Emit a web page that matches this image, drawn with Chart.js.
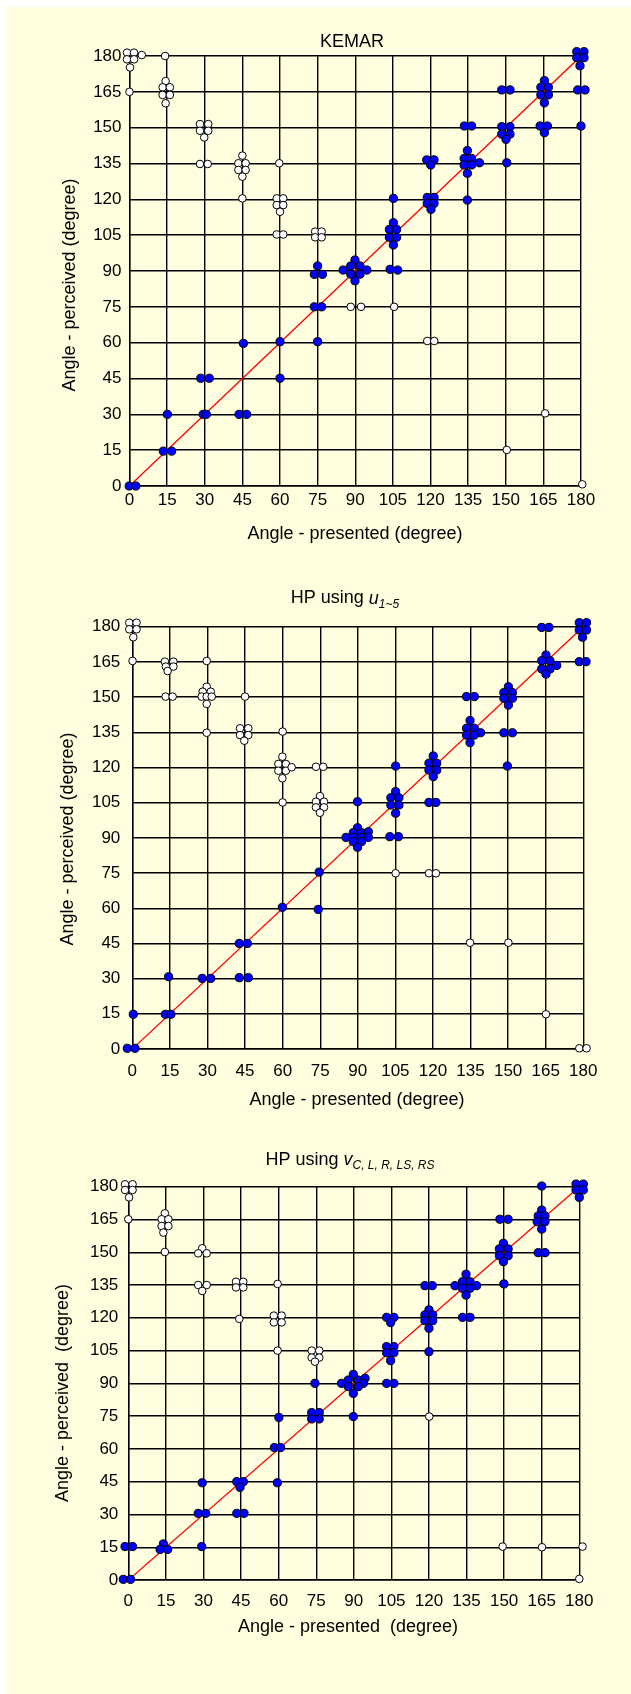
<!DOCTYPE html>
<html>
<head>
<meta charset="utf-8">
<script src="https://cdn.jsdelivr.net/npm/chart.js@4/dist/chart.umd.min.js"></script>
<style>
    html, body { margin: 0; padding: 0; background: #fff; }
    #page { position: absolute; left: 6px; top: 7px; width: 625px; height: 1687px; background: #FFFFE0; }
    canvas { position: absolute; left: 0; }
</style>
</head>
<body>
<div id="page"></div>
<canvas id="kemar" width="631" height="560" style="top:0px"></canvas>
<canvas id="hpu" width="631" height="560" style="top:560px"></canvas>
<canvas id="hpv" width="631" height="574" style="top:1120px"></canvas>
<script>
const angleTicks = [0, 15, 30, 45, 60, 75, 90, 105, 120, 135, 150, 165, 180];
const diagonal = [[0, 0], [180, 180]];

const panelNames = ['KEMAR', 'HP using ', 'HP using '];
const panelSymbols = ['', 'u', 'v'];
const panelSubscripts = ['', '1~5', 'C, L, R, LS, RS'];
const xTitles = ['Angle - presented (degree)', 'Angle - presented (degree)', 'Angle - presented  (degree)'];
const yTitles = ['Angle - perceived (degree)', 'Angle - perceived (degree)', 'Angle - perceived  (degree)'];

// KEMAR
const kemarWhite = [
    [0, 185], [-1, 181.4], [1.8, 181.4], [-1, 178.6], [1.8, 178.6], [0.2, 175.2], [4.9, 180.4],
    [14.2, 180], [0, 165],
    [14.4, 169.5], [13.2, 166.9], [16.1, 166.9], [13.2, 163.7], [16.1, 163.7], [14.4, 160.2],
    [28.1, 151.5], [31.4, 151.5], [28.1, 148.7], [31.4, 148.7], [29.8, 145.9],
    [28.1, 134.8], [31.2, 134.8],
    [45, 138.3], [43.4, 135.1], [46.3, 135.1], [43.4, 132.3], [46.3, 132.3], [45, 129.5],
    [45, 120.4], [59.7, 135.1],
    [58.7, 120.4], [61.3, 120.4], [58.7, 117.6], [61.3, 117.6], [60, 114.8],
    [58.7, 105.3], [61.3, 105.3],
    [74, 106.5], [76.6, 106.5], [74, 104.1], [76.6, 104.1],
    [88.2, 75], [92.3, 75], [105.5, 75],
    [118.7, 60.7], [121.5, 60.7],
    [165.7, 30.4], [150.4, 15.1], [180.5, 0.7]
];
const kemarBlue = [
    [-0.1, 0], [2.5, 0],
    [13.5, 14.6], [16.8, 14.6],
    [15.1, 30],
    [29.4, 30], [30.6, 30],
    [28.4, 45.1], [31.8, 45.1],
    [43.7, 30], [46.7, 30],
    [45.4, 59.7],
    [60, 60.4], [60, 45.1],
    [73.7, 75], [76.6, 75],
    [75, 60.4],
    [75, 92.1], [73.7, 88.6], [76.9, 88.6],
    [89.9, 94.6], [85.2, 90.4], [88.2, 92.1], [91.9, 92.1], [94.6, 90.4], [88.2, 88.7], [91.9, 88.7], [89.9, 85.9],
    [103.9, 90.7], [106.9, 90.4],
    [105.2, 120.4],
    [105.2, 110.2], [103.6, 107.4], [106.5, 107.4], [103.6, 104.1], [106.5, 104.1], [105.2, 100.9],
    [118.7, 120.8], [121.4, 120.8], [118.7, 118.3], [121.4, 118.3], [120.2, 115.8],
    [118.5, 136.5], [121.4, 136.5], [120.1, 134.4],
    [134.7, 140.4], [133.4, 137.1], [136.4, 137.1], [139.5, 135.3], [133.4, 134.4], [136.4, 134.4], [134.7, 130.9],
    [134.7, 119.7],
    [133.5, 150.7], [136.4, 150.7],
    [148.4, 150.4], [151.7, 150.4], [148.4, 147.3], [151.7, 147.3], [150.1, 145.1],
    [150.4, 135.3],
    [148.4, 165.8], [151.7, 165.8],
    [165.4, 169.7], [164, 166.9], [167, 166.9], [164, 163.7], [167, 163.7], [165.4, 160.4],
    [163.7, 150.7], [166.6, 150.7], [165.4, 147.9],
    [179.6, 185], [178.3, 181.8], [181.2, 181.8], [178.3, 179.3], [181.2, 179.3], [179.6, 175.9],
    [178.7, 165.8], [181.6, 165.8],
    [180, 150.7]
];

// HP using u
const hpuWhite = [
    [0.4, 185], [-1.2, 181.7], [1.7, 181.7], [-1.2, 178.9], [1.7, 178.9], [0.4, 175.5],
    [0.1, 165.4],
    [13, 165.1], [16.4, 165.1], [13.4, 163], [16.4, 163], [14.1, 161.1],
    [13.3, 150.2], [16.1, 150.2],
    [29.7, 165.4],
    [29.7, 154.4], [28.1, 152.3], [31.3, 152.3], [27.7, 150.2], [29.7, 150.2], [31.7, 150.2], [29.7, 147.1],
    [29.7, 134.8],
    [45, 150.2],
    [43, 136.7], [46.3, 136.7], [43, 133.8], [46.3, 133.8], [44.7, 131.4],
    [60, 135.3],
    [59.9, 124.6], [58.3, 121.5], [61.3, 121.5], [58.3, 118.6], [61.3, 118.6], [63.6, 120.1], [59.9, 115.4],
    [60, 105.1],
    [73.3, 120.3], [76.2, 120.3],
    [74.9, 107.8], [73.3, 105.4], [76.5, 105.4], [73.3, 103], [76.5, 103], [74.9, 100.7],
    [105.1, 74.9], [118.4, 74.9], [121.2, 74.9],
    [134.8, 45.3], [150.1, 45.3], [165.1, 14.8],
    [178.4, 0.3], [181.3, 0.3]
];
const hpuBlue = [
    [-2, 0.3], [1.1, 0.3],
    [0.4, 14.8],
    [13.2, 14.8], [15.4, 14.8],
    [14.5, 30.8],
    [27.9, 30.1], [31.3, 30.1],
    [42.7, 30.4], [46.3, 30.4],
    [42.7, 45], [45.9, 45],
    [59.9, 60.4],
    [74.6, 75.4], [74.2, 59.5],
    [89.9, 105.4],
    [89.9, 94.3], [88.2, 92.2], [91.5, 92.2], [94.2, 92.6], [85.3, 90.2], [88.2, 90.2], [91.5, 90.2], [94.2, 90.2], [88.2, 88.4], [91.5, 88.4], [89.9, 86],
    [102.8, 90.5], [106.2, 90.5],
    [105.1, 120.6],
    [105.1, 109.7], [103.2, 107.1], [106.4, 107.1], [103.2, 104], [106.4, 104], [105.1, 100.5],
    [120.1, 124.9], [118.4, 121.8], [121.5, 121.8], [118.4, 118.9], [121.5, 118.9], [120.1, 116.1],
    [118.4, 105.1], [121.2, 105.1],
    [133.4, 150.2], [136.5, 150.2],
    [134.8, 140], [133.4, 136.7], [136.5, 136.7], [139, 134.8], [133.4, 133.8], [136.5, 133.8], [134.8, 130.6],
    [150.1, 154.4], [148.3, 151.9], [151.7, 151.9], [148.3, 149.5], [151.7, 149.5], [150.1, 146.6],
    [148.3, 134.8], [151.7, 134.8],
    [149.7, 120.6],
    [163.4, 179.7], [166.3, 179.7],
    [165.1, 167.9], [163.4, 165.5], [166.7, 165.5], [169.4, 163.5], [163.4, 162], [166.7, 162], [165.1, 159.8],
    [179.7, 184.7], [178.4, 181.7], [181.3, 181.7], [178.4, 178.6], [181.3, 178.6], [179.7, 175.5],
    [178.4, 165.1], [181.1, 165.1]
];

// HP using v
const hpvWhite = [
    [-1.3, 181.1], [1.7, 181.1], [-1.3, 178.5], [1.7, 178.5], [0.3, 175.1],
    [0, 165.1],
    [14.6, 167.8], [13.3, 165.1], [16, 165.1], [13.3, 162], [16, 162], [14, 159],
    [14.6, 150.1],
    [29.5, 151.8], [27.9, 149.5], [31.3, 149.5],
    [27.9, 135], [31.3, 135], [29.5, 132.3],
    [43, 136.5], [45.9, 136.5], [43, 133.9], [45.9, 133.9],
    [44.3, 119.5],
    [59.6, 135.5],
    [58.1, 121], [61.2, 121], [58.1, 117.9], [61.2, 117.9],
    [59.6, 105],
    [73.2, 105], [76.2, 105], [73.2, 101.8], [76.2, 101.8], [74.5, 99.9],
    [120.1, 74.8],
    [149.4, 15.3], [165.1, 15], [181.3, 15.3], [180, 0.5]
];
const hpvBlue = [
    [-2, 0.3], [0.9, 0.3],
    [-1.3, 15.3], [1.7, 15.3],
    [14, 16.5], [12.7, 14], [15.7, 14],
    [29.3, 15.3],
    [27.9, 30.5], [30.9, 30.5],
    [29.5, 44.5],
    [43.3, 45], [45.9, 45], [44.6, 42.4],
    [43.3, 30.5], [46.2, 30.5],
    [58.3, 60.6], [60.8, 60.6],
    [60.1, 74.4],
    [59.5, 44.5],
    [73.2, 76.6], [76.2, 76.6], [73.2, 73.7], [76.2, 73.7],
    [74.5, 90],
    [89.8, 94.1], [87.8, 91.5], [91.8, 91.5], [94.5, 92.3], [85.1, 90], [93.8, 90], [87.8, 88.5], [91.8, 88.5], [89.8, 85.4],
    [89.8, 74.8],
    [103.1, 90], [106, 90],
    [103.1, 120.2], [106, 120.2], [104.7, 117.8],
    [103.1, 106.8], [106, 106.8], [103.1, 104], [106, 104], [104.7, 100.4],
    [120, 123.6], [118.4, 121.3], [121.5, 121.3], [118.4, 118.7], [121.5, 118.7], [120, 115.2],
    [120, 104.5],
    [118.4, 134.7], [121.3, 134.7],
    [134.8, 139.9], [133.4, 136.5], [136.4, 136.5], [130.4, 134.7], [139, 134.7], [133.4, 133.5], [136.4, 133.5], [134.8, 130.4],
    [133.4, 120.2], [136.4, 120.2],
    [148.3, 165.1], [151.6, 165.1],
    [149.7, 154.1], [148.1, 151.5], [151.6, 151.5], [148.1, 148.4], [151.6, 148.4], [149.7, 145.7],
    [149.9, 135.5],
    [165, 180.3],
    [165, 169.3], [163.6, 166.6], [166.3, 166.6], [163.2, 164], [166.3, 164], [165, 160.6],
    [163.6, 149.8], [166.3, 149.8],
    [180, 184.6], [178.7, 181.2], [181.6, 181.2], [184, 180], [178.7, 178.5], [181.6, 178.5], [180, 175.1]
];

const FONT = '"Liberation Sans", Arial, sans-serif';

// where each plot sits inside its canvas (pixels)
const layouts = [
    { height: 560, left: 129.5, right: 581, top: 56, bottom: 486, xPad: 4, yPad: 8,
      titleX: 352, titleY: 42, xTitleX: 355, xTitleY: 534, yTitleX: 70, yTitleY: 285 },
    { height: 560, left: 132.3, right: 583.3, top: 66.7, bottom: 489, xPad: 12, yPad: 12,
      titleX: 345, titleY: 38.5, xTitleX: 357, xTitleY: 540, yTitleX: 68, yTitleY: 279 },
    { height: 574, left: 128.3, right: 579.3, top: 66.7, bottom: 460, xPad: 11.5, yPad: 10,
      titleX: 350, titleY: 40, xTitleX: 348, xTitleY: 507, yTitleX: 63, yTitleY: 273 }
];

const panelText = {
    id: 'panelText',
    afterDraw(chart, args, o) {
        const ctx = chart.ctx;
        ctx.save();
        ctx.fillStyle = '#000';
        ctx.textBaseline = 'middle';
        const runs = [
            { text: o.name, font: '18px ' + FONT, dy: 0 },
            { text: o.symbol, font: 'italic 18px ' + FONT, dy: 0 },
            { text: o.sub, font: 'italic 12px ' + FONT, dy: 6 }
        ].filter(r => r.text);
        let total = 0;
        runs.forEach(r => { ctx.font = r.font; r.w = ctx.measureText(r.text).width; total += r.w; });
        let x = o.titleX - total / 2;
        ctx.textAlign = 'left';
        runs.forEach(r => { ctx.font = r.font; ctx.fillText(r.text, x, o.titleY + r.dy); x += r.w; });

        ctx.font = '18px ' + FONT;
        ctx.textAlign = 'center';
        ctx.fillText(o.xTitle, o.xTitleX, o.xTitleY);
        ctx.translate(o.yTitleX, o.yTitleY);
        ctx.rotate(-Math.PI / 2);
        ctx.fillText(o.yTitle, 0, 0);
        ctx.restore();
    }
};

const toPoints = arr => arr.map(p => ({ x: p[0], y: p[1] }));

function axis(L, isX) {
    return {
        type: 'linear',
        min: 0,
        max: 180,
        afterBuildTicks: s => { s.ticks = angleTicks.map(v => ({ value: v })); },
        afterFit: s => {
            if (isX) s.height = L.height - L.bottom;
            else s.width = L.left;
        },
        grid: { color: '#000', lineWidth: 1.4, drawTicks: false },
        border: { color: '#000', width: 1.4 },
        ticks: {
            color: '#000',
            padding: isX ? L.xPad : L.yPad,
            maxRotation: 0,
            autoSkip: false,
            font: { family: FONT, size: 17 }
        }
    };
}

function renderPanel(canvasId, i, blue, white) {
    const L = layouts[i];
    new Chart(canvasId, {
        type: 'scatter',
        data: {
            datasets: [{
                data: toPoints(blue),
                backgroundColor: '#0000FF',
                borderColor: '#000',
                borderWidth: 1,
                pointRadius: 4.1,
                clip: false
            }, {
                data: toPoints(white),
                backgroundColor: '#FFFFFF',
                borderColor: '#000',
                borderWidth: 1,
                pointRadius: 3.8,
                clip: false
            }, {
                data: toPoints(diagonal),
                showLine: true,
                borderColor: '#FF0000',
                borderWidth: 1.3,
                pointRadius: 0
            }]
        },
        options: {
            responsive: false,
            animation: false,
            events: [],
            layout: { padding: { top: L.top, right: 631 - L.right, left: 0, bottom: 0 } },
            scales: { x: axis(L, true), y: axis(L, false) },
            plugins: {
                legend: { display: false },
                tooltip: { enabled: false },
                panelText: {
                    name: panelNames[i], symbol: panelSymbols[i], sub: panelSubscripts[i],
                    xTitle: xTitles[i], yTitle: yTitles[i],
                    titleX: L.titleX, titleY: L.titleY,
                    xTitleX: L.xTitleX, xTitleY: L.xTitleY,
                    yTitleX: L.yTitleX, yTitleY: L.yTitleY
                }
            }
        },
        plugins: [panelText]
    });
}

renderPanel('kemar', 0, kemarBlue, kemarWhite);
renderPanel('hpu', 1, hpuBlue, hpuWhite);
renderPanel('hpv', 2, hpvBlue, hpvWhite);
</script>
</body>
</html>
